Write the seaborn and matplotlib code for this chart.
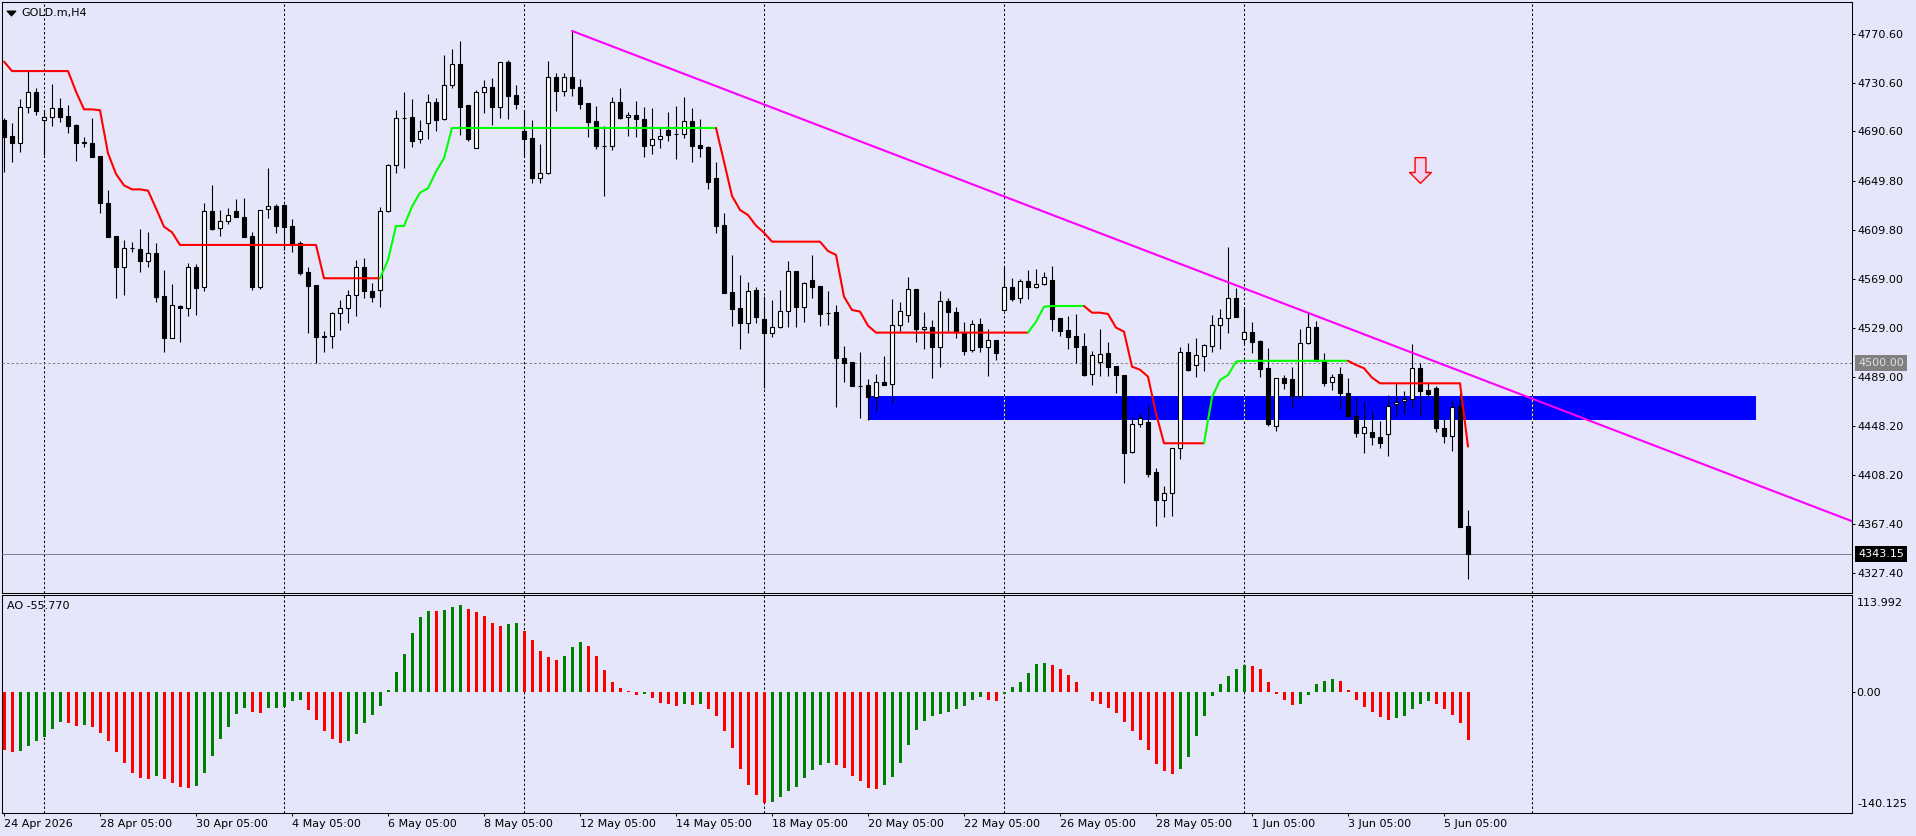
import numpy as np
import pandas as pd
import matplotlib
matplotlib.use("Agg")
import matplotlib.pyplot as plt
from matplotlib.path import Path
from matplotlib.patches import Rectangle
import seaborn as sns

# ---- GOLD.m H4 candles (bar 0 = 24 Apr 2026 05:00) ----
opens = [
    4699.9, 4686.8, 4681.3, 4710.9, 4722.7, 4699.7, 4702.2, 4709.6, 4702.9, 4695.8,
    4681.5, 4680.8, 4670.4, 4631.4, 4604.6, 4579.4, 4594.8, 4593.9, 4584.3, 4590.3,
    4555.2, 4520.9, 4547.0, 4545.1, 4579.4, 4562.4, 4624.9, 4610.9, 4616.6, 4624.9,
    4619.9, 4604.6, 4562.4, 4626.5, 4629.2, 4629.8, 4612.8, 4598.5, 4575.0, 4564.3,
    4522.0, 4522.6, 4541.0, 4545.1, 4555.8, 4578.8, 4559.4, 4559.9, 4625.4, 4662.7,
    4701.6, 4702.2, 4684.1, 4697.2, 4714.5, 4700.5, 4728.5, 4745.7, 4712.0, 4677.2,
    4722.7, 4726.8, 4710.9, 4747.4, 4720.3, 4690.9, 4684.9, 4652.0, 4656.1, 4735.6,
    4723.5, 4735.6, 4726.8, 4713.7, 4698.9, 4678.7, 4678.6, 4714.5, 4702.2, 4703.8,
    4700.5, 4679.1, 4684.6, 4691.5, 4688.7, 4688.7, 4698.9, 4679.1, 4677.5, 4652.0,
    4613.3, 4558.3, 4545.1, 4532.8, 4560.2, 4536.0, 4524.5, 4530.0, 4542.6, 4575.5,
    4546.5, 4568.4, 4563.5, 4541.6, 4542.1, 4504.0, 4501.0, 4481.0, 4482.0, 4472.5,
    4484.5, 4482.6, 4531.1, 4539.3, 4560.7, 4527.8, 4530.0, 4513.0, 4550.8, 4541.8,
    4525.9, 4510.8, 4531.9, 4513.5, 4519.0, 4543.4, 4562.3, 4553.3, 4567.3, 4562.3,
    4564.8, 4568.4, 4536.8, 4527.2, 4522.3, 4514.1, 4490.8, 4500.7, 4508.1, 4497.6,
    4490.2, 4426.6, 4449.7, 4451.6, 4410.2, 4387.5, 4393.5, 4430.0, 4508.9, 4498.2,
    4505.9, 4514.4, 4531.1, 4536.8, 4553.3, 4519.8, 4525.3, 4518.2, 4495.7, 4448.6,
    4487.5, 4486.7, 4473.3, 4516.3, 4529.5, 4502.6, 4484.3, 4490.8, 4475.2, 4456.8,
    4442.9, 4443.4, 4439.0, 4441.5, 4466.2, 4468.9, 4470.3, 4495.8, 4477.9, 4479.3,
    4446.4, 4440.1, 4464.8, 4366.1]
highs = [
    4701.3, 4697.2, 4717.2, 4740.2, 4726.0, 4708.2, 4729.6, 4717.8, 4712.0, 4696.7,
    4685.7, 4701.3, 4670.6, 4642.4, 4604.8, 4601.3, 4599.9, 4610.1, 4607.6, 4598.5,
    4576.6, 4565.1, 4547.8, 4582.1, 4581.3, 4632.0, 4646.5, 4626.0, 4627.3, 4634.7,
    4635.5, 4608.1, 4626.3, 4660.2, 4630.6, 4630.6, 4618.6, 4600.7, 4579.4, 4564.6,
    4526.7, 4541.8, 4551.9, 4560.2, 4584.9, 4586.2, 4565.7, 4628.7, 4663.8, 4708.2,
    4723.3, 4717.2, 4700.0, 4721.3, 4718.3, 4753.4, 4758.4, 4764.9, 4712.3, 4724.6,
    4732.9, 4734.2, 4747.6, 4749.3, 4728.8, 4708.2, 4700.0, 4680.2, 4748.5, 4738.3,
    4738.3, 4773.2, 4733.4, 4713.9, 4711.5, 4695.0, 4719.2, 4726.0, 4706.8, 4715.6,
    4710.4, 4709.6, 4694.5, 4706.3, 4711.7, 4718.6, 4709.6, 4700.5, 4678.6, 4665.1,
    4623.2, 4589.0, 4572.5, 4566.5, 4562.4, 4555.2, 4552.0, 4560.2, 4584.0, 4575.7,
    4567.0, 4589.0, 4563.7, 4559.6, 4547.8, 4514.1, 4501.2, 4509.2, 4486.7, 4491.1,
    4505.9, 4552.8, 4550.0, 4570.6, 4561.3, 4542.4, 4535.5, 4559.6, 4553.3, 4545.9,
    4533.5, 4535.5, 4536.8, 4528.1, 4519.2, 4579.9, 4569.7, 4568.9, 4576.6, 4577.1,
    4574.7, 4579.9, 4537.0, 4538.8, 4540.4, 4524.5, 4510.3, 4528.1, 4517.1, 4497.8,
    4490.4, 4456.0, 4458.7, 4466.1, 4413.5, 4399.0, 4430.2, 4513.5, 4516.8, 4520.4,
    4515.7, 4539.6, 4544.2, 4595.8, 4561.5, 4545.9, 4534.1, 4519.0, 4512.2, 4487.7,
    4490.3, 4496.6, 4528.1, 4541.0, 4534.7, 4508.1, 4491.1, 4497.1, 4487.5, 4471.9,
    4467.8, 4460.1, 4452.5, 4473.8, 4483.4, 4477.1, 4515.8, 4499.9, 4483.4, 4481.2,
    4454.6, 4469.2, 4475.2, 4379.2]
lows = [
    4657.5, 4665.7, 4673.9, 4706.0, 4704.1, 4671.2, 4695.0, 4698.6, 4689.0, 4666.5,
    4678.0, 4669.3, 4623.2, 4603.8, 4553.9, 4556.1, 4591.1, 4575.2, 4579.4, 4550.6,
    4509.5, 4520.5, 4517.7, 4538.8, 4539.6, 4559.6, 4609.5, 4604.6, 4614.2, 4620.2,
    4603.8, 4560.2, 4560.7, 4619.1, 4606.8, 4593.1, 4591.1, 4572.5, 4525.1, 4500.4,
    4509.5, 4512.8, 4527.3, 4533.3, 4538.8, 4553.3, 4550.6, 4545.9, 4624.3, 4656.7,
    4660.2, 4678.0, 4681.3, 4684.6, 4690.9, 4700.3, 4726.0, 4687.6, 4683.0, 4676.7,
    4706.0, 4695.9, 4701.9, 4700.8, 4708.7, 4669.8, 4647.9, 4648.4, 4655.8, 4707.6,
    4720.0, 4720.0, 4708.7, 4686.3, 4676.1, 4637.7, 4675.3, 4700.8, 4686.8, 4685.7,
    4669.3, 4672.0, 4677.2, 4683.0, 4668.2, 4685.4, 4665.7, 4669.8, 4643.2, 4606.8,
    4557.8, 4530.8, 4511.4, 4525.1, 4532.8, 4479.3, 4521.8, 4529.2, 4530.0, 4530.0,
    4534.1, 4553.9, 4530.6, 4531.4, 4464.2, 4484.2, 4481.3, 4455.2, 4453.3, 4460.7,
    4481.8, 4467.0, 4526.7, 4534.1, 4517.7, 4511.4, 4488.1, 4496.6, 4526.7, 4520.4,
    4507.0, 4509.4, 4509.4, 4489.7, 4502.6, 4543.0, 4551.4, 4549.7, 4552.5, 4562.1,
    4564.3, 4526.7, 4522.6, 4511.9, 4500.4, 4489.4, 4482.3, 4489.7, 4489.4, 4475.2,
    4401.2, 4425.8, 4447.2, 4406.6, 4366.1, 4373.7, 4374.3, 4420.9, 4493.8, 4488.9,
    4493.8, 4509.4, 4511.6, 4524.5, 4537.7, 4515.7, 4508.1, 4488.9, 4448.6, 4444.5,
    4478.5, 4462.9, 4471.6, 4516.1, 4501.9, 4481.2, 4477.9, 4462.0, 4456.0, 4439.0,
    4425.9, 4432.7, 4430.0, 4423.7, 4455.5, 4457.9, 4463.4, 4456.8, 4472.5, 4443.7,
    4434.6, 4428.1, 4365.4, 4322.5]
closes = [
    4685.7, 4681.3, 4710.9, 4722.7, 4707.6, 4702.2, 4709.6, 4702.7, 4695.3, 4681.3,
    4681.0, 4669.8, 4631.4, 4604.0, 4579.4, 4594.4, 4594.4, 4584.3, 4590.3, 4554.7,
    4520.9, 4547.8, 4545.1, 4578.8, 4562.1, 4624.9, 4610.3, 4616.9, 4621.6, 4620.5,
    4604.0, 4562.4, 4626.0, 4629.2, 4613.1, 4612.3, 4598.0, 4574.4, 4563.7, 4521.8,
    4521.5, 4541.0, 4545.1, 4555.8, 4578.8, 4559.6, 4554.7, 4625.4, 4662.7, 4701.3,
    4701.3, 4683.0, 4690.6, 4714.5, 4700.0, 4728.5, 4745.7, 4710.9, 4684.6, 4722.7,
    4726.8, 4710.9, 4747.4, 4720.0, 4713.4, 4684.6, 4652.0, 4656.1, 4735.6, 4723.5,
    4735.1, 4726.6, 4713.4, 4698.6, 4678.9, 4678.5, 4714.5, 4701.9, 4703.8, 4700.5,
    4678.9, 4684.6, 4686.5, 4687.9, 4688.5, 4698.9, 4678.9, 4677.2, 4649.3, 4613.1,
    4558.0, 4544.8, 4532.8, 4559.1, 4538.2, 4525.1, 4530.0, 4542.6, 4575.5, 4546.5,
    4565.7, 4562.9, 4540.2, 4541.4, 4504.0, 4500.4, 4481.5, 4480.9, 4472.5, 4484.8,
    4482.0, 4531.1, 4542.9, 4560.7, 4527.8, 4530.0, 4513.0, 4550.8, 4542.4, 4525.5,
    4510.3, 4531.9, 4513.5, 4519.0, 4508.1, 4562.3, 4552.7, 4567.3, 4562.3, 4564.8,
    4571.1, 4536.6, 4526.7, 4521.8, 4513.5, 4490.2, 4506.7, 4507.2, 4497.1, 4490.0,
    4426.4, 4449.7, 4455.2, 4408.8, 4387.5, 4393.5, 4430.0, 4508.9, 4494.4, 4506.4,
    4514.9, 4531.1, 4536.8, 4553.3, 4538.2, 4525.3, 4517.7, 4495.4, 4449.7, 4487.5,
    4483.4, 4473.3, 4516.3, 4529.5, 4502.1, 4484.0, 4488.9, 4475.2, 4456.8, 4442.9,
    4447.2, 4439.0, 4434.1, 4464.8, 4468.4, 4470.3, 4495.8, 4477.4, 4474.4, 4446.4,
    4440.1, 4464.2, 4365.6, 4343.15]

# trailing stop line (one value per bar), colour flips at these bars
trail = [
    4748.0, 4740.2, 4740.2, 4740.2, 4740.2, 4740.2, 4740.2, 4740.2, 4740.2, 4723.3,
    4708.7, 4708.7, 4708.0, 4672.6, 4655.6, 4646.2, 4642.9, 4642.9, 4641.9, 4627.3,
    4612.2, 4607.6, 4597.2, 4597.2, 4597.2, 4597.2, 4597.2, 4597.2, 4597.2, 4597.2,
    4597.2, 4597.2, 4597.2, 4597.2, 4597.2, 4597.2, 4597.2, 4597.2, 4597.2, 4597.2,
    4569.8, 4569.8, 4569.8, 4569.8, 4569.8, 4569.8, 4569.8, 4569.8, 4584.8, 4612.8,
    4612.8, 4628.7, 4640.2, 4643.8, 4657.5, 4668.5, 4693.4, 4693.4, 4693.4, 4693.4,
    4693.4, 4693.4, 4693.4, 4693.4, 4693.4, 4693.4, 4693.4, 4693.4, 4693.4, 4693.4,
    4693.4, 4693.4, 4693.4, 4693.4, 4693.4, 4693.4, 4693.4, 4693.4, 4693.4, 4693.4,
    4693.4, 4693.4, 4693.4, 4693.4, 4693.4, 4693.4, 4693.4, 4693.4, 4693.4, 4693.4,
    4665.7, 4637.5, 4626.0, 4621.8, 4613.1, 4607.3, 4599.9, 4599.9, 4599.9, 4599.9,
    4599.9, 4599.9, 4599.9, 4592.2, 4589.0, 4554.7, 4543.7, 4542.4, 4530.8, 4525.1,
    4525.1, 4525.1, 4525.1, 4525.1, 4525.1, 4525.1, 4525.1, 4525.1, 4525.1, 4525.1,
    4525.1, 4525.1, 4525.1, 4525.1, 4525.1, 4525.1, 4525.1, 4525.1, 4525.1, 4534.1,
    4546.4, 4547.0, 4547.0, 4547.0, 4547.0, 4547.0, 4541.5, 4541.5, 4540.4, 4529.2,
    4525.9, 4497.1, 4494.6, 4488.9, 4458.7, 4434.1, 4434.1, 4434.1, 4434.1, 4434.1,
    4434.1, 4471.9, 4486.1, 4490.2, 4501.2, 4501.9, 4501.9, 4501.9, 4501.9, 4501.9,
    4501.9, 4501.9, 4501.9, 4501.9, 4501.9, 4501.9, 4501.9, 4501.9, 4501.9, 4498.5,
    4495.8, 4488.1, 4483.4, 4483.4, 4483.4, 4483.4, 4483.4, 4483.4, 4483.4, 4483.4,
    4483.4, 4483.4, 4483.4, 4431.4]
trail_flips = [47, 89, 128, 135, 150, 168]

# Awesome Oscillator values
ao_before = -66.0
ao = [
    -67.7, -69.6, -68.5, -62.6, -56.8, -52.1, -42.8, -34.6, -35.8, -39.3,
    -38.1, -40.5, -47.5, -56.8, -69.6, -82.5, -94.1, -100.0, -101.1, -97.6,
    -101.1, -105.8, -110.5, -111.6, -109.3, -94.1, -74.3, -54.5, -40.5, -25.3,
    -18.3, -22.9, -24.1, -18.3, -18.0, -16.7, -10.1, -8.9, -20.6, -32.3,
    -45.1, -54.5, -59.1, -56.8, -48.6, -35.8, -26.4, -15.9, 2.3, 23.3,
    44.3, 68.8, 87.5, 94.6, 94.4, 95.7, 99.2, 101.5, 96.8, 93.3,
    88.7, 80.5, 77.0, 79.3, 80.5, 71.2, 60.7, 47.8, 40.8, 37.3,
    42.0, 52.5, 58.3, 53.7, 42.0, 25.7, 11.7, 4.7, 1.2, -3.5,
    -1.9, -7.0, -12.8, -14.0, -16.3, -14.0, -14.3, -13.9, -19.8, -28.0,
    -45.5, -65.3, -89.8, -108.5, -120.2, -129.5, -128.4, -122.5, -115.5, -110.9,
    -100.3, -91.0, -85.2, -82.8, -85.2, -88.7, -98.0, -103.9, -112.0, -113.2,
    -108.5, -99.2, -82.8, -61.8, -44.3, -33.8, -28.0, -25.7, -23.3, -19.8,
    -16.3, -9.3, -5.8, -9.3, -10.5, -2.3, 5.8, 11.7, 22.2, 32.7,
    33.8, 31.5, 26.8, 19.8, 11.7, 0.8, -10.5, -14.0, -18.7, -24.5,
    -35.0, -45.5, -56.0, -67.7, -84.0, -92.2, -95.7, -89.8, -75.8, -51.3,
    -28.0, -4.7, 9.3, 18.7, 26.8, 31.6, 31.2, 26.8, 11.7, -1.9,
    -9.3, -15.2, -14.0, -3.5, 9.3, 12.8, 15.2, 12.8, 2.3, -9.3,
    -17.5, -23.3, -29.2, -32.7, -30.3, -28.0, -19.8, -14.0, -10.5, -14.0,
    -19.8, -26.8, -36.2, -55.77]

# objects on the chart
trend_bars = [71, 231]
trend_prices = [4773.2, 4370.0]
zone_bars = [108, 219]
zone_prices = [4453.3, 4473.0]
level_price = 4500.00
last_price = 4343.15
signal_bar = 177
signal_price = 4658.9

# axes
price_ticks = [4770.60, 4730.60, 4690.60, 4649.80, 4609.80, 4569.00,
               4529.00, 4489.00, 4448.20, 4408.20, 4367.40, 4327.40]
ao_top, ao_bottom = 113.992, -140.125
grid_bars = [5, 35, 65, 95, 125, 155, 191]
label_bars = [0, 12, 24, 36, 48, 60, 72, 84, 96, 108, 120, 132, 144, 156, 168, 180]
label_text = ["24 Apr 2026", "28 Apr 05:00", "30 Apr 05:00", "4 May 05:00",
              "6 May 05:00", "8 May 05:00", "12 May 05:00", "14 May 05:00",
              "18 May 05:00", "20 May 05:00", "22 May 05:00", "26 May 05:00",
              "28 May 05:00", "1 Jun 05:00", "3 Jun 05:00", "5 Jun 05:00"]

for arr in (opens, highs, lows, closes, trail, ao):
    assert len(arr) == 184, len(arr)

BG = "#E6E6FA"
sns.set_theme(style="white", rc={"axes.facecolor": BG, "figure.facecolor": BG,
                                 "savefig.facecolor": BG})
plt.rcParams["font.family"] = ["DejaVu Sans"]

W, H = 1916, 836
fig = plt.figure(figsize=(W / 100, H / 100), dpi=100)


def fx(px):
    return px / W


def fy(py):
    return 1 - py / H


ax = fig.add_axes([fx(2), fy(592.7), fx(1852) - fx(2), fy(2) - fy(592.7)])
ax_ao = fig.add_axes([fx(2), fy(812.5), fx(1852) - fx(2), fy(594.7) - fy(812.5)])

dash = (0, (2.2, 2.2))
idx = np.arange(len(closes))
o, h, l, c = (np.array(a) for a in (opens, highs, lows, closes))

# grid, zone, level lines
for g in grid_bars:
    ax.axvline(g, color="black", lw=0.75, ls=dash, zorder=1)
    ax_ao.axvline(g, color="black", lw=0.75, ls=dash, zorder=1)
ax.add_patch(Rectangle((zone_bars[0], zone_prices[0]), zone_bars[1] - zone_bars[0],
                       zone_prices[1] - zone_prices[0], color="#0000FF", lw=0, zorder=2))
for g in grid_bars:
    if zone_bars[0] < g < zone_bars[1]:
        ax.vlines(g, zone_prices[0], zone_prices[1], color="#FFFF00", lw=0.75,
                  ls=dash, zorder=2.5)
ax.axhline(level_price, color="#808080", lw=0.75, ls=dash, zorder=2.6)
ax.axhline(last_price, color="#778899", lw=0.75, zorder=2.6)

# candles
up = c >= o
ax.vlines(idx, l, h, color="black", lw=0.8, zorder=3)
ax.bar(idx, np.abs(c - o), bottom=np.minimum(o, c), width=0.5,
       color=np.where(up, "white", "black"), edgecolor="black", linewidth=0.8, zorder=4)

# trailing stop, red when down, lime when up
bounds = [0] + trail_flips + [len(trail) - 1]
tr = np.array(trail)
for k in range(len(bounds) - 1):
    s, e = bounds[k], bounds[k + 1]
    sns.lineplot(x=idx[s:e + 1], y=tr[s:e + 1], color="#FF0000" if k % 2 == 0 else "#00FF00",
                 linewidth=1.5, ax=ax, zorder=5)

# trend line
sns.lineplot(x=trend_bars, y=trend_prices, color="#FF00FF", linewidth=1.5, ax=ax, zorder=6)

# sell arrow
arrow = Path([(-5.5, 13), (5.5, 13), (5.5, -2), (11, -2), (0, -13), (-11, -2),
              (-5.5, -2), (-5.5, 13)], closed=True)
ax.plot([signal_bar], [signal_price], marker=arrow, ms=18.5, mfc="#EFD3EF",
        mec="#FF0000", mew=1.0, ls="none", zorder=7)

# AO histogram
ao_arr = np.array(ao)
ao_df = pd.DataFrame({"bar": idx, "ao": ao_arr,
                      "trend": np.where(np.diff(ao_arr, prepend=ao_before) >= 0, "up", "down")})
sns.barplot(data=ao_df, x="bar", y="ao", hue="trend",
            palette={"up": "#008000", "down": "#FF0000"}, native_scale=True,
            width=0.375, saturation=1, errorbar=None, legend=False, linewidth=0,
            ax=ax_ao, zorder=3)

# limits / ticks
ax.set_xlim(-0.25, 231)
ax.set_ylim(4311.2, 4797.0)
ax_ao.set_xlim(-0.25, 231)
ax_ao.set_ylim(ao_bottom, ao_top)
for a in (ax, ax_ao):
    a.set_xlabel("")
    a.set_ylabel("")
    for sp in a.spines.values():
        sp.set_visible(True)
        sp.set_color("black")
        sp.set_linewidth(0.75)

ax.set_xticks([])
ax.set_yticks(price_ticks)
ax.set_yticklabels([f"{v:.2f}" for v in price_ticks])
ax.tick_params(axis="y", left=False, labelleft=False, right=True, labelright=True,
               direction="out", length=2.5, width=0.75, pad=1.5, labelsize=8,
               colors="black")

ax_ao.set_yticks([0])
ax_ao.set_yticklabels(["0.00"])
ax_ao.tick_params(axis="y", left=False, labelleft=False, right=True, labelright=True,
                  direction="out", length=2.5, width=0.75, pad=0.8, labelsize=8,
                  colors="black")
ax_ao.set_xticks(label_bars)
ax_ao.set_xticklabels(label_text)
ax_ao.tick_params(axis="x", bottom=True, direction="out", length=2.5, width=0.75,
                  pad=2, labelsize=8, colors="black")
for t in ax_ao.get_xticklabels():
    t.set_ha("left")

# price boxes on the right scale
ax.annotate(f"{level_price:.2f}", xy=(1, level_price), xycoords=ax.get_yaxis_transform(),
            xytext=(6, 0), textcoords="offset pixels", ha="left", va="center",
            fontsize=8, color="#E0E0E0", annotation_clip=False, zorder=10,
            bbox=dict(boxstyle="square,pad=0.28", fc="#808080", ec="none"))
ax.annotate(f"{last_price:.2f}", xy=(1, last_price), xycoords=ax.get_yaxis_transform(),
            xytext=(6, 0), textcoords="offset pixels", ha="left", va="center",
            fontsize=8, color="white", annotation_clip=False, zorder=10,
            bbox=dict(boxstyle="square,pad=0.28", fc="black", ec="none"))

# panel captions
tri = Path([(-1, 0.55), (1, 0.55), (0, -0.55), (-1, 0.55)], closed=True)
ax.plot([(11 - 2) / 1850], [1 - (13 - 2) / 590.7], marker=tri, ms=6, color="black",
        ls="none", transform=ax.transAxes, clip_on=False, zorder=10)
fig.text(fx(21), fy(12.7), "GOLD.m,H4", fontsize=8, ha="left", va="center", color="black")
fig.text(fx(7), fy(606), f"AO {ao[-1]:.3f}", fontsize=8, ha="left", va="center", color="black")
fig.text(fx(1857), fy(603.4), f"{ao_top:.3f}", fontsize=8, ha="left", va="center", color="black")
fig.text(fx(1857), fy(803.8), f"{ao_bottom:.3f}", fontsize=8, ha="left", va="center", color="black")

fig.savefig("out.png", dpi=100)
